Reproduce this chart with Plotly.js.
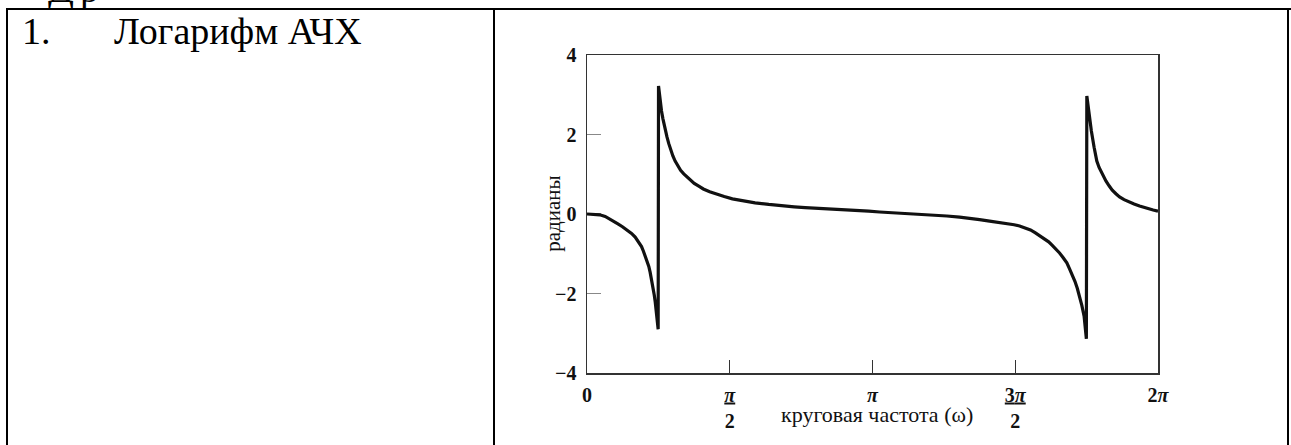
<!DOCTYPE html>
<html>
<head>
<meta charset="utf-8">
<script src="https://cdn.plot.ly/plotly-3.0.1.min.js"></script>
<style>
  html, body { margin: 0; padding: 0; background: #fff; width: 1291px; height: 445px; overflow: hidden; }
  .line { position: absolute; background: #000; }
  .txt { position: absolute; font-family: "Liberation Serif", "Times New Roman", serif; font-size: 38px; color: #000; white-space: pre; line-height: normal; }
  #plot { position: absolute; left: 0; top: 0; width: 1291px; height: 445px; }
</style>
</head>
<body>
<div class="txt" style="left:48px; top:-33px; letter-spacing:6px;">Др</div>
<div class="line" style="left:6px; top:8px; width:1285px; height:2px;"></div>
<div class="line" style="left:6px; top:8px; width:2px; height:437px;"></div>
<div class="line" style="left:493px; top:8px; width:2px; height:437px;"></div>
<div class="line" style="left:1287px; top:8px; width:2px; height:437px;"></div>
<div class="txt" style="left:22px; top:9px;">1.</div>
<div class="txt" style="left:114px; top:9px;">Логарифм АЧХ</div>
<div id="plot"></div>
<script>
// Data
const omega = [
  0, 0.05, 0.10, 0.14, 0.20, 0.25, 0.30, 0.34, 0.39, 0.44, 0.49, 0.53, 0.57, 0.60, 0.62,
  0.64, 0.66, 0.68, 0.695, 0.71, 0.72, 0.73, 0.74, 0.75, 0.76, 0.77, 0.783,
  0.787, 0.795, 0.80, 0.81, 0.82, 0.835, 0.85, 0.865, 0.88, 0.90, 0.92, 0.945, 0.97, 1.00,
  1.03, 1.065, 1.10, 1.14, 1.18, 1.23, 1.28, 1.35, 1.42, 1.51, 1.60, 1.72, 1.85, 2.00,
  2.15, 2.28, 2.40, 2.55, 2.70, 2.85, 2.95, 3.10, 3.22, 3.40, 3.60, 3.80, 3.96, 4.10,
  4.20, 4.32, 4.43, 4.53, 4.62, 4.70, 4.76, 4.82, 4.88, 4.93, 4.98, 5.03, 5.08, 5.12,
  5.16, 5.20, 5.24, 5.28, 5.31, 5.34, 5.37, 5.395, 5.42, 5.445, 5.47, 5.495,
  5.50, 5.51, 5.52, 5.535, 5.55, 5.58, 5.61, 5.635, 5.66, 5.685, 5.71, 5.745, 5.78, 5.82,
  5.86, 5.91, 5.96, 6.02, 6.08, 6.13, 6.18, 6.23, 6.283
];
const radians = [
  0, 0, -0.01, -0.02, -0.06, -0.12, -0.18, -0.25, -0.32, -0.40, -0.49, -0.58, -0.70, -0.82, -0.93,
  -1.05, -1.18, -1.32, -1.47, -1.64, -1.77, -1.90, -2.04, -2.20, -2.37, -2.55, -2.90,
  3.22, 3.05, 2.95, 2.78, 2.59, 2.40, 2.22, 2.07, 1.94, 1.77, 1.60, 1.46, 1.33, 1.21,
  1.10, 1.01, 0.93, 0.85, 0.77, 0.70, 0.63, 0.56, 0.50, 0.44, 0.38, 0.33, 0.28, 0.24,
  0.20, 0.18, 0.16, 0.145, 0.13, 0.11, 0.09, 0.07, 0.05, 0.03, 0.00, -0.03, -0.05, -0.08,
  -0.10, -0.14, -0.18, -0.21, -0.24, -0.27, -0.30, -0.35, -0.40, -0.47, -0.55, -0.62, -0.70, -0.79,
  -0.88, -0.98, -1.10, -1.23, -1.38, -1.53, -1.70, -1.87, -2.06, -2.30, -2.57, -3.14,
  2.97, 2.77, 2.55, 2.30, 2.09, 1.68, 1.33, 1.17, 1.05, 0.93, 0.83, 0.71, 0.60, 0.51,
  0.43, 0.36, 0.30, 0.25, 0.20, 0.16, 0.13, 0.10, 0.07
];
const xTickVals = [0, Math.PI / 2, Math.PI, 3 * Math.PI / 2, 2 * Math.PI];
const xTickText = ['0', '<u><i>π</i></u><br>2', '<i>π</i>', '<u>3<i>π</i></u><br>2', '2<i>π</i>'];
const yTickVals = [-4, -2, 0, 2, 4];
const yTickText = ['−4', '−2', '0', '2', '4'];
const xTitle = 'круговая частота (ω)';
const yTitle = 'радианы';

const serif = '"Liberation Serif", "Times New Roman", serif';

Plotly.newPlot('plot', [{
  x: omega,
  y: radians,
  type: 'scatter',
  mode: 'lines',
  line: { color: '#111', width: 3.2 },
  hoverinfo: 'skip'
}], {
  width: 1291,
  height: 445,
  margin: { l: 587, r: 133, t: 55, b: 72 },
  paper_bgcolor: 'rgba(0,0,0,0)',
  plot_bgcolor: 'rgba(0,0,0,0)',
  showlegend: false,
  xaxis: {
    range: [0, 2 * Math.PI],
    tickmode: 'array',
    tickvals: xTickVals,
    ticktext: xTickText,
    ticks: 'inside',
    ticklen: 13,
    tickwidth: 1.2,
    tickcolor: '#333',
    showgrid: false,
    zeroline: false,
    showline: true,
    linecolor: '#333',
    linewidth: 1.5,
    mirror: true,
    layer: 'below traces',
    ticklabelstandoff: 3,
    tickfont: { family: serif, size: 20, color: '#111', weight: 'bold' },
    title: { text: '' }
  },
  yaxis: {
    range: [-4, 4],
    tickmode: 'array',
    tickvals: yTickVals,
    ticktext: yTickText,
    ticks: 'inside',
    ticklen: 14,
    tickwidth: 1.2,
    tickcolor: '#888',
    showgrid: false,
    zeroline: false,
    showline: true,
    linecolor: '#333',
    linewidth: 1.5,
    mirror: true,
    layer: 'below traces',
    ticklabelstandoff: 5,
    tickfont: { family: serif, size: 20, color: '#111', weight: 'bold' },
    title: { text: '' }
  },
  annotations: [{
    text: xTitle,
    xref: 'paper', yref: 'paper',
    x: 0.508, y: -0.132,
    xanchor: 'center', yanchor: 'middle',
    showarrow: false,
    font: { family: serif, size: 22, color: '#111' }
  }, {
    text: yTitle,
    xref: 'paper', yref: 'paper',
    x: -0.06, y: 0.5,
    xanchor: 'center', yanchor: 'middle',
    textangle: -90,
    showarrow: false,
    font: { family: serif, size: 21, color: '#111' }
  }]
}, { staticPlot: true, displayModeBar: false });
</script>
</body>
</html>
